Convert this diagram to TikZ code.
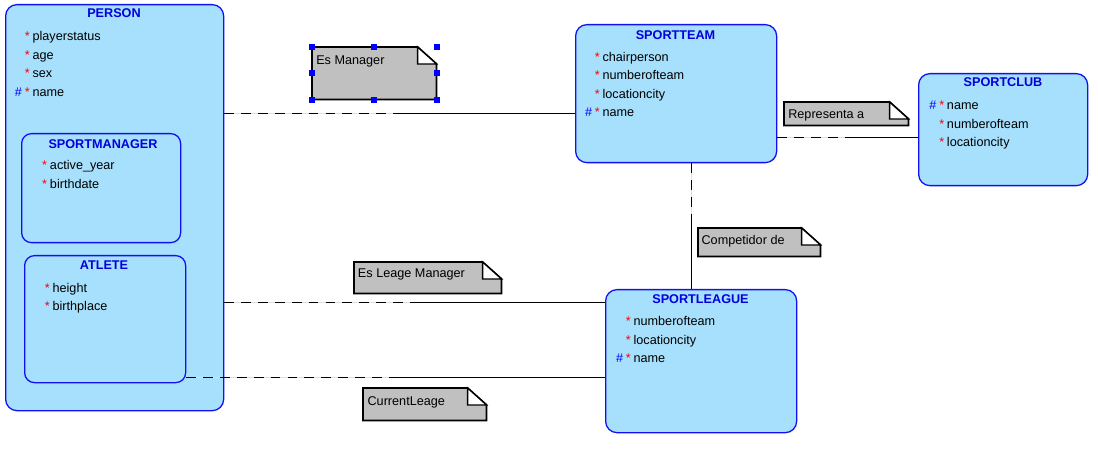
\documentclass[tikz,border=0pt]{standalone}
\usepackage{fontspec}
\setmainfont{Liberation Sans}
\usepackage{xcolor}
\usepackage{tikz}
\usetikzlibrary{positioning}
\usetikzlibrary{calc}
\definecolor{entfill}{RGB}{166,224,252}
\definecolor{entline}{RGB}{16,16,240}
\definecolor{enttitle}{RGB}{0,0,220}
\definecolor{notegray}{RGB}{192,192,192}
\tikzstyle{entity}=[rectangle,rounded corners=8pt,fill=entfill,draw=entline,line width=0.9pt,inner sep=0pt,anchor=north west]
\tikzstyle{subentity}=[entity,rounded corners=7pt]
\tikzstyle{etitle}=[anchor=base,inner sep=0pt,text=enttitle,font=\bfseries\fontsize{9}{11}\selectfont]
\tikzstyle{attr}=[anchor=base west,inner sep=0pt,font=\fontsize{9}{11}\selectfont]
\tikzstyle{notebox}=[rectangle,inner sep=0pt,anchor=north west]
\tikzstyle{notetext}=[anchor=base west,inner sep=0pt,font=\fontsize{9}{11}\selectfont]
\tikzstyle{handle}=[rectangle,fill=blue,inner sep=0pt,minimum size=4.2pt]
\tikzstyle{rel} = [draw,line width=0.7pt]
\tikzstyle{optrel} = [rel,dash pattern=on 7pt off 5pt,preaction={draw=gray!25,solid}]
\tikzset{notepaper/.style={fill=notegray,draw=black,line width=1.3pt}}
\tikzset{notefold/.style={fill=white,draw=black,line width=1pt}}
\newcommand{\mn}{\textcolor{red}{*}}
\newcommand{\pk}{\textcolor{blue}{\#}\kern2pt\textcolor{red}{*}}

\begin{document}
\begin{tikzpicture}[x=0.025cm,y=-0.025cm]

  \def\px{0.025cm}
  \useasboundingbox (0,0) rectangle (1098,452);

   \foreach \x/\y/\w/\h/\name in {5/4/218/406/person, 575/24/201/138/team, 918/73/169/112/club, 605/289/191/143/league}
          \node[entity,minimum width=\w*\px,minimum height=\h*\px] (\name) at (\x,\y) {};

   \foreach \x/\y/\w/\h/\name in {21/133/159/109/manager, 24/255/161/127/atlete}
          \node[subentity,minimum width=\w*\px,minimum height=\h*\px] (\name) at (\x,\y) {};

   \foreach \x/\y/\name/\label in {114/18/person/PERSON, 103/149/manager/SPORTMANAGER, 104/270/atlete/ATLETE, 675.5/40/team/SPORTTEAM, 1003/87/club/SPORTCLUB, 700.5/304/league/SPORTLEAGUE}
          \node[etitle] (\name-t) at (\x,\y) {\label};

   \foreach \k/\label [count=\i] in {\mn/playerstatus, \mn/age, \mn/sex, \pk/name}
          \node[attr] (person-a\i) at (32.3, 22.6+18.4*\i) {\llap{\k\kern2pt}\label};

   \foreach \k/\label [count=\i] in {\mn/active\_year, \mn/birthdate}
          \node[attr] (manager-a\i) at (49.7, 151.6+18.4*\i) {\llap{\k\kern2pt}\label};

   \foreach \k/\label [count=\i] in {\mn/height, \mn/birthplace}
          \node[attr] (atlete-a\i) at (52.3, 273.6+18.4*\i) {\llap{\k\kern2pt}\label};

   \foreach \k/\label [count=\i] in {\mn/chairperson, \mn/numberofteam, \mn/locationcity, \pk/name}
          \node[attr] (team-a\i) at (602.3, 42.9+18.4*\i) {\llap{\k\kern2pt}\label};

   \foreach \k/\label [count=\i] in {\pk/name, \mn/numberofteam, \mn/locationcity}
          \node[attr] (club-a\i) at (946.7, 91.6+18.4*\i) {\llap{\k\kern2pt}\label};

   \foreach \k/\label [count=\i] in {\mn/numberofteam, \mn/locationcity, \pk/name}
          \node[attr] (league-a\i) at (633.3, 307.6+18.4*\i) {\llap{\k\kern2pt}\label};


   \foreach \x/\y/\w/\h/\name in {312/47/124/52/esman, 784/102/124/23/repr, 698/228/122/28/comp, 354/262/147/31/esleage, 363/388/123/32/curr}
   {
          \node[notebox,minimum width=\w*\px,minimum height=\h*\px] (\name) at (\x,\y) {};
          \path[notepaper] (\name.north west) -- ($(\name.north east)+(-19,0)$) -- ($(\name.north east)+(0,17)$) -- (\name.south east) -- (\name.south west) -- cycle;
          \path[notefold] ($(\name.north east)+(-19,0)$) -- ($(\name.north east)+(-19,17)$) -- ($(\name.north east)+(0,17)$) -- cycle;
   }

   \foreach \x/\y/\name/\label in {316/64.7/esman/Es Manager, 788/118.5/repr/Representa a, 701.3/245/comp/Competidor de, 357.7/278/esleage/Es Leage Manager, 367.3/405.7/curr/CurrentLeage}
          \node[notetext] (\name-t) at (\x,\y) {\label};

   \foreach \a [count=\i] in {north west, north, north east, west, east, south west, south, south east}
          \node[handle] (esman-h\i) at (esman.\a) {};

   % relationships: optional half dashed, mandatory half solid
   \coordinate (m1) at (400,113);
   \coordinate (m2) at (848,137);
   \coordinate (m3) at (691,222);
   \coordinate (m4) at (414,302);
   \coordinate (m5) at (395,377);

   \foreach \m/\source/\dest in {m1/person/team, m2/team/club, m4/person/league, m5/atlete/league}
   {
          \path[optrel] (\m -| \source.east) -- (\m);
          \path[rel] (\m) -- (\m -| \dest.west);
   }

   \path[optrel] (m3 |- team.south) -- (m3);
   \path[rel] (m3) -- (m3 |- league.north);

\end{tikzpicture}
\end{document}
